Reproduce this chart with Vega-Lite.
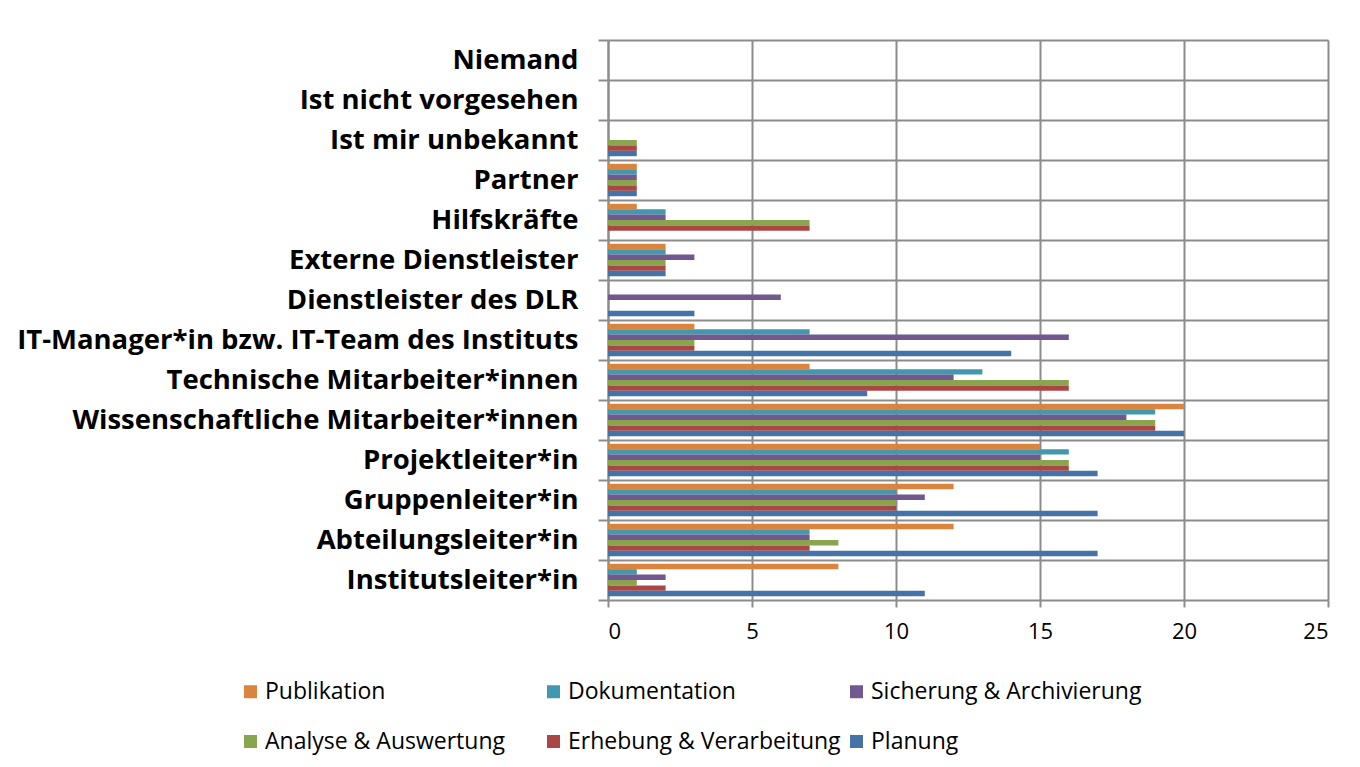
{
  "$schema": "https://vega.github.io/schema/vega-lite/v6.json",
  "width": 720,
  "height": 560,
  "autosize": {"type": "none"},
  "padding": {"left": 608, "top": 40, "right": 32, "bottom": 167},
  "background": "white",
  "config": {"view": {"stroke": null}, "font": "Open Sans"},
  "data": {"values": [
    {"Rolle": "Niemand", "Bereich": "Publikation", "Anzahl": 0},
    {"Rolle": "Niemand", "Bereich": "Dokumentation", "Anzahl": 0},
    {"Rolle": "Niemand", "Bereich": "Sicherung & Archivierung", "Anzahl": 0},
    {"Rolle": "Niemand", "Bereich": "Analyse & Auswertung", "Anzahl": 0},
    {"Rolle": "Niemand", "Bereich": "Erhebung & Verarbeitung", "Anzahl": 0},
    {"Rolle": "Niemand", "Bereich": "Planung", "Anzahl": 0},
    {"Rolle": "Ist nicht vorgesehen", "Bereich": "Publikation", "Anzahl": 0},
    {"Rolle": "Ist nicht vorgesehen", "Bereich": "Dokumentation", "Anzahl": 0},
    {"Rolle": "Ist nicht vorgesehen", "Bereich": "Sicherung & Archivierung", "Anzahl": 0},
    {"Rolle": "Ist nicht vorgesehen", "Bereich": "Analyse & Auswertung", "Anzahl": 0},
    {"Rolle": "Ist nicht vorgesehen", "Bereich": "Erhebung & Verarbeitung", "Anzahl": 0},
    {"Rolle": "Ist nicht vorgesehen", "Bereich": "Planung", "Anzahl": 0},
    {"Rolle": "Ist mir unbekannt", "Bereich": "Publikation", "Anzahl": 0},
    {"Rolle": "Ist mir unbekannt", "Bereich": "Dokumentation", "Anzahl": 0},
    {"Rolle": "Ist mir unbekannt", "Bereich": "Sicherung & Archivierung", "Anzahl": 0},
    {"Rolle": "Ist mir unbekannt", "Bereich": "Analyse & Auswertung", "Anzahl": 1},
    {"Rolle": "Ist mir unbekannt", "Bereich": "Erhebung & Verarbeitung", "Anzahl": 1},
    {"Rolle": "Ist mir unbekannt", "Bereich": "Planung", "Anzahl": 1},
    {"Rolle": "Partner", "Bereich": "Publikation", "Anzahl": 1},
    {"Rolle": "Partner", "Bereich": "Dokumentation", "Anzahl": 1},
    {"Rolle": "Partner", "Bereich": "Sicherung & Archivierung", "Anzahl": 1},
    {"Rolle": "Partner", "Bereich": "Analyse & Auswertung", "Anzahl": 1},
    {"Rolle": "Partner", "Bereich": "Erhebung & Verarbeitung", "Anzahl": 1},
    {"Rolle": "Partner", "Bereich": "Planung", "Anzahl": 1},
    {"Rolle": "Hilfskräfte", "Bereich": "Publikation", "Anzahl": 1},
    {"Rolle": "Hilfskräfte", "Bereich": "Dokumentation", "Anzahl": 2},
    {"Rolle": "Hilfskräfte", "Bereich": "Sicherung & Archivierung", "Anzahl": 2},
    {"Rolle": "Hilfskräfte", "Bereich": "Analyse & Auswertung", "Anzahl": 7},
    {"Rolle": "Hilfskräfte", "Bereich": "Erhebung & Verarbeitung", "Anzahl": 7},
    {"Rolle": "Hilfskräfte", "Bereich": "Planung", "Anzahl": 0},
    {"Rolle": "Externe Dienstleister", "Bereich": "Publikation", "Anzahl": 2},
    {"Rolle": "Externe Dienstleister", "Bereich": "Dokumentation", "Anzahl": 2},
    {"Rolle": "Externe Dienstleister", "Bereich": "Sicherung & Archivierung", "Anzahl": 3},
    {"Rolle": "Externe Dienstleister", "Bereich": "Analyse & Auswertung", "Anzahl": 2},
    {"Rolle": "Externe Dienstleister", "Bereich": "Erhebung & Verarbeitung", "Anzahl": 2},
    {"Rolle": "Externe Dienstleister", "Bereich": "Planung", "Anzahl": 2},
    {"Rolle": "Dienstleister des DLR", "Bereich": "Publikation", "Anzahl": 0},
    {"Rolle": "Dienstleister des DLR", "Bereich": "Dokumentation", "Anzahl": 0},
    {"Rolle": "Dienstleister des DLR", "Bereich": "Sicherung & Archivierung", "Anzahl": 6},
    {"Rolle": "Dienstleister des DLR", "Bereich": "Analyse & Auswertung", "Anzahl": 0},
    {"Rolle": "Dienstleister des DLR", "Bereich": "Erhebung & Verarbeitung", "Anzahl": 0},
    {"Rolle": "Dienstleister des DLR", "Bereich": "Planung", "Anzahl": 3},
    {"Rolle": "IT-Manager*in bzw. IT-Team des Instituts", "Bereich": "Publikation", "Anzahl": 3},
    {"Rolle": "IT-Manager*in bzw. IT-Team des Instituts", "Bereich": "Dokumentation", "Anzahl": 7},
    {"Rolle": "IT-Manager*in bzw. IT-Team des Instituts", "Bereich": "Sicherung & Archivierung", "Anzahl": 16},
    {"Rolle": "IT-Manager*in bzw. IT-Team des Instituts", "Bereich": "Analyse & Auswertung", "Anzahl": 3},
    {"Rolle": "IT-Manager*in bzw. IT-Team des Instituts", "Bereich": "Erhebung & Verarbeitung", "Anzahl": 3},
    {"Rolle": "IT-Manager*in bzw. IT-Team des Instituts", "Bereich": "Planung", "Anzahl": 14},
    {"Rolle": "Technische Mitarbeiter*innen", "Bereich": "Publikation", "Anzahl": 7},
    {"Rolle": "Technische Mitarbeiter*innen", "Bereich": "Dokumentation", "Anzahl": 13},
    {"Rolle": "Technische Mitarbeiter*innen", "Bereich": "Sicherung & Archivierung", "Anzahl": 12},
    {"Rolle": "Technische Mitarbeiter*innen", "Bereich": "Analyse & Auswertung", "Anzahl": 16},
    {"Rolle": "Technische Mitarbeiter*innen", "Bereich": "Erhebung & Verarbeitung", "Anzahl": 16},
    {"Rolle": "Technische Mitarbeiter*innen", "Bereich": "Planung", "Anzahl": 9},
    {"Rolle": "Wissenschaftliche Mitarbeiter*innen", "Bereich": "Publikation", "Anzahl": 20},
    {"Rolle": "Wissenschaftliche Mitarbeiter*innen", "Bereich": "Dokumentation", "Anzahl": 19},
    {"Rolle": "Wissenschaftliche Mitarbeiter*innen", "Bereich": "Sicherung & Archivierung", "Anzahl": 18},
    {"Rolle": "Wissenschaftliche Mitarbeiter*innen", "Bereich": "Analyse & Auswertung", "Anzahl": 19},
    {"Rolle": "Wissenschaftliche Mitarbeiter*innen", "Bereich": "Erhebung & Verarbeitung", "Anzahl": 19},
    {"Rolle": "Wissenschaftliche Mitarbeiter*innen", "Bereich": "Planung", "Anzahl": 20},
    {"Rolle": "Projektleiter*in", "Bereich": "Publikation", "Anzahl": 15},
    {"Rolle": "Projektleiter*in", "Bereich": "Dokumentation", "Anzahl": 16},
    {"Rolle": "Projektleiter*in", "Bereich": "Sicherung & Archivierung", "Anzahl": 15},
    {"Rolle": "Projektleiter*in", "Bereich": "Analyse & Auswertung", "Anzahl": 16},
    {"Rolle": "Projektleiter*in", "Bereich": "Erhebung & Verarbeitung", "Anzahl": 16},
    {"Rolle": "Projektleiter*in", "Bereich": "Planung", "Anzahl": 17},
    {"Rolle": "Gruppenleiter*in", "Bereich": "Publikation", "Anzahl": 12},
    {"Rolle": "Gruppenleiter*in", "Bereich": "Dokumentation", "Anzahl": 10},
    {"Rolle": "Gruppenleiter*in", "Bereich": "Sicherung & Archivierung", "Anzahl": 11},
    {"Rolle": "Gruppenleiter*in", "Bereich": "Analyse & Auswertung", "Anzahl": 10},
    {"Rolle": "Gruppenleiter*in", "Bereich": "Erhebung & Verarbeitung", "Anzahl": 10},
    {"Rolle": "Gruppenleiter*in", "Bereich": "Planung", "Anzahl": 17},
    {"Rolle": "Abteilungsleiter*in", "Bereich": "Publikation", "Anzahl": 12},
    {"Rolle": "Abteilungsleiter*in", "Bereich": "Dokumentation", "Anzahl": 7},
    {"Rolle": "Abteilungsleiter*in", "Bereich": "Sicherung & Archivierung", "Anzahl": 7},
    {"Rolle": "Abteilungsleiter*in", "Bereich": "Analyse & Auswertung", "Anzahl": 8},
    {"Rolle": "Abteilungsleiter*in", "Bereich": "Erhebung & Verarbeitung", "Anzahl": 7},
    {"Rolle": "Abteilungsleiter*in", "Bereich": "Planung", "Anzahl": 17},
    {"Rolle": "Institutsleiter*in", "Bereich": "Publikation", "Anzahl": 8},
    {"Rolle": "Institutsleiter*in", "Bereich": "Dokumentation", "Anzahl": 1},
    {"Rolle": "Institutsleiter*in", "Bereich": "Sicherung & Archivierung", "Anzahl": 2},
    {"Rolle": "Institutsleiter*in", "Bereich": "Analyse & Auswertung", "Anzahl": 1},
    {"Rolle": "Institutsleiter*in", "Bereich": "Erhebung & Verarbeitung", "Anzahl": 2},
    {"Rolle": "Institutsleiter*in", "Bereich": "Planung", "Anzahl": 11}
  ]},
  "mark": {"type": "bar"},
  "encoding": {
    "y": {
      "field": "Rolle", "type": "nominal", "sort": null,
      "scale": {"paddingInner": 0, "paddingOuter": 0},
      "axis": {
        "title": null, "labelFont": "Open Sans", "labelFontWeight": "bold", "labelFontSize": 27.5,
        "labelColor": "black", "tickBand": "extent", "ticks": true, "tickSize": 10,
        "tickColor": "#8c8c8c", "tickWidth": 2, "grid": true, "gridColor": "#8c8c8c",
        "gridWidth": 2, "gridOpacity": 1, "domain": true, "domainColor": "#8c8c8c", "domainWidth": 2,
        "labelPadding": 20, "labelLimit": 0
      }
    },
    "x": {
      "field": "Anzahl", "type": "quantitative",
      "scale": {"domain": [0, 25], "nice": false},
      "axis": {
        "title": null, "values": [0, 5, 10, 15, 20, 25], "grid": true, "gridColor": "#8c8c8c",
        "gridWidth": 2, "gridOpacity": 1, "ticks": true, "tickSize": 7, "tickColor": "#8c8c8c",
        "tickWidth": 2, "domain": false, "labelFontSize": 22,
        "labelPadding": 14, "labelColor": "black", "labelFont": "Open Sans"
      }
    },
    "yOffset": {
      "field": "Bereich", "type": "nominal",
      "sort": ["Publikation", "Dokumentation", "Sicherung & Archivierung", "Analyse & Auswertung", "Erhebung & Verarbeitung", "Planung"],
      "scale": {"paddingInner": 0, "paddingOuter": 0.7}
    },
    "color": {
      "field": "Bereich", "type": "nominal",
      "scale": {
        "domain": ["Publikation", "Dokumentation", "Sicherung & Archivierung", "Analyse & Auswertung", "Erhebung & Verarbeitung", "Planung"],
        "range": ["#DB843D", "#4198AF", "#71588F", "#89A54E", "#AA4643", "#4572A7"]
      },
      "legend": {
        "title": null, "orient": "none", "legendX": -369, "legendY": 640,
        "direction": "horizontal", "columns": 3, "gridAlign": "all",
        "columnPadding": 4, "rowPadding": 26, "symbolType": "square", "symbolSize": 169,
        "symbolStrokeWidth": 0, "labelFont": "Open Sans", "labelFontSize": 23, "labelColor": "black",
        "labelOffset": 3, "labelLimit": 0
      }
    }
  }
}
